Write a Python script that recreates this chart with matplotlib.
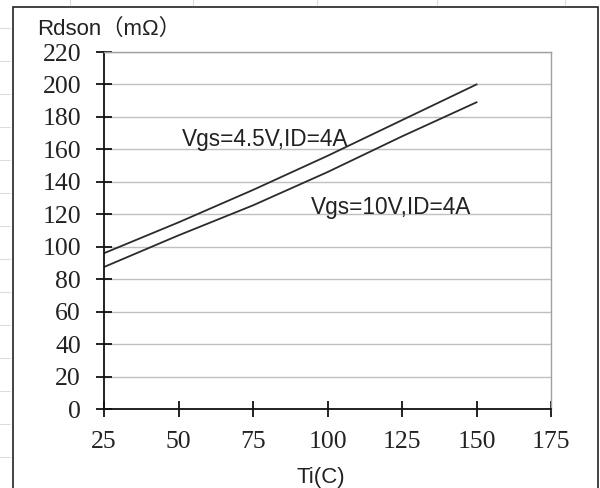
import matplotlib
matplotlib.use("Agg")
import matplotlib.pyplot as plt
from matplotlib.lines import Line2D
from matplotlib.patches import Rectangle

# data
temps = [25, 50, 75, 100, 125, 150]
rds_45v = [96, 115, 135, 156, 178, 200]   # Vgs=4.5V, ID=4A
rds_10v = [87.5, 107, 125.5, 146, 168, 189]  # Vgs=10V, ID=4A

x_ticks = [25, 50, 75, 100, 125, 150, 175]
y_ticks = list(range(0, 221, 20))

label_45v = "Vgs=4.5V,ID=4A"
label_10v = "Vgs=10V,ID=4A"
y_title = "Rdson（mΩ）"
x_title = "Ti(C)"

sans = ["Liberation Sans", "Noto Sans CJK SC", "DejaVu Sans"]
serif = ["Liberation Serif", "DejaVu Serif"]

fig = plt.figure(figsize=(6, 4.88), dpi=100)
ax = fig.add_axes([104 / 600, 79 / 488, 447 / 600, 357 / 488])

# outer frame of the screenshot
fig.patches.append(Rectangle((13 / 600, -0.01), 585 / 600, 481 / 488 + 0.01,
                             transform=fig.transFigure, fill=False,
                             edgecolor="#222222", linewidth=1.2))
# faint spreadsheet marks outside the frame
for yy in range(28, 488, 33):
    fig.add_artist(Line2D([0, 10 / 600], [1 - yy / 488] * 2, transform=fig.transFigure,
                          color="#dddddd", linewidth=0.8))
for xx in [70, 193, 317, 437, 565]:
    fig.add_artist(Line2D([xx / 600] * 2, [1, 1 - 5 / 488], transform=fig.transFigure,
                          color="#dddddd", linewidth=0.8))

ax.plot(temps, rds_45v, color="#2b2b2b", linewidth=1.3)
ax.plot(temps, rds_10v, color="#2b2b2b", linewidth=1.3)

ax.set_xlim(25, 175)
ax.set_ylim(0, 220)
ax.set_xticks(x_ticks)
ax.set_yticks(y_ticks)
ax.yaxis.grid(True, color="#c0c0c0", linewidth=1)
ax.set_axisbelow(True)

for side in ["top", "right"]:
    ax.spines[side].set_color("#a0a0a0")
    ax.spines[side].set_linewidth(1)
for side in ["left", "bottom"]:
    ax.spines[side].set_color("#111111")
    ax.spines[side].set_linewidth(1.3)

ax.tick_params(direction="inout", length=11, width=1.3, color="#111111",
               labelsize=18.5)
ax.tick_params(axis="y", pad=11)
ax.tick_params(axis="x", pad=10)
for lab in ax.get_xticklabels() + ax.get_yticklabels():
    lab.set_family(serif)
    lab.set_color("#222222")

ax.text(51, 166, label_45v, family=sans, fontsize=16.3, color="#222222", va="center")
ax.text(94.5, 124, label_10v, family=sans, fontsize=16.3, color="#222222", va="center")

fig.text(37 / 600, 1 - 40 / 488, y_title, family=sans, fontsize=16,
         color="#222222", va="bottom", ha="left")
fig.text(321 / 600, 1 - 477 / 488, x_title, family=sans, fontsize=16,
         color="#222222", va="center", ha="center")

fig.savefig("out.png", dpi=100, facecolor="white")
